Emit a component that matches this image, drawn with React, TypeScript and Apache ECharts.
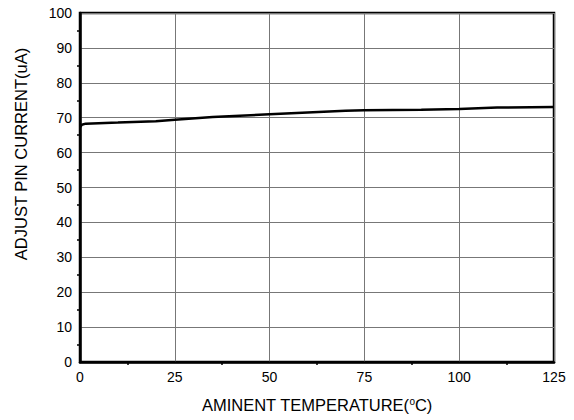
import React, { useEffect, useRef } from "react";
import * as echarts from "echarts";

const temperatures = [0, 0.5, 1.5, 10, 20, 25, 35, 50, 60, 70, 75, 90, 100, 110, 125];
const currents = [67.3, 68.0, 68.3, 68.6, 69.0, 69.4, 70.2, 71.0, 71.5, 72.0, 72.1, 72.3, 72.5, 72.9, 73.1];
const xTicks = [0, 25, 50, 75, 100, 125];
const yTicks = [0, 10, 20, 30, 40, 50, 60, 70, 80, 90, 100];

export default function App() {
  const ref = useRef<HTMLDivElement>(null);
  useEffect(() => {
    const chart = echarts.init(ref.current!, null, { renderer: "svg" });
    const font = "Liberation Sans, Arial, sans-serif";
    chart.setOption({
      animation: false,
      backgroundColor: "#fff",
      grid: {
        left: 80,
        right: 20,
        top: 13,
        bottom: 58,
        show: true,
        borderColor: "#000",
        borderWidth: 2.5,
        containLabel: false,
        outerBoundsMode: "none",
      },
      xAxis: {
        type: "value",
        min: xTicks[0],
        max: xTicks[xTicks.length - 1],
        interval: 25,
        name: "{a|AMINENT TEMPERATURE(}{s|o}{a|C)}",
        nameLocation: "middle",
        nameGap: 34,
        nameTextStyle: {
          rich: {
            a: { fontFamily: font, fontSize: 16.5, color: "#000" },
            s: { fontFamily: font, fontSize: 10, color: "#000", verticalAlign: "top", padding: [0, 0, 7, 0] },
          },
        },
        axisLine: { show: true, lineStyle: { color: "#000", width: 2.5 } },
        axisTick: { show: false },
        minorTick: { show: true, splitNumber: 2, length: 3, lineStyle: { color: "#000", width: 1.5 } },
        axisLabel: { color: "#000", fontFamily: font, fontSize: 14, margin: 8 },
        splitLine: { show: true, lineStyle: { color: "#777", width: 1 } },
      },
      yAxis: {
        type: "value",
        min: yTicks[0],
        max: yTicks[yTicks.length - 1],
        interval: 10,
        name: "ADJUST PIN CURRENT(uA)",
        nameLocation: "middle",
        nameGap: 51,
        nameTextStyle: { fontFamily: font, fontSize: 16.5, color: "#000", padding: [0, 0, 0, 67] },
        axisLine: { show: true, lineStyle: { color: "#000", width: 2.5 } },
        axisTick: { show: false },
        minorTick: { show: true, splitNumber: 2, length: 3, lineStyle: { color: "#000", width: 1.5 } },
        axisLabel: { color: "#000", fontFamily: font, fontSize: 14, margin: 8 },
        splitLine: { show: true, lineStyle: { color: "#777", width: 1 } },
      },
      series: [
        {
          type: "line",
          data: temperatures.map((t, i) => [t, currents[i]]),
          showSymbol: false,
          lineStyle: { color: "#000", width: 2.5 },
        },
      ],
    });
    return () => chart.dispose();
  }, []);
  return (
    <div
      ref={ref}
      style={{ position: "absolute", left: 0, top: 0, width: 574, height: 420 }}
    />
  );
}
